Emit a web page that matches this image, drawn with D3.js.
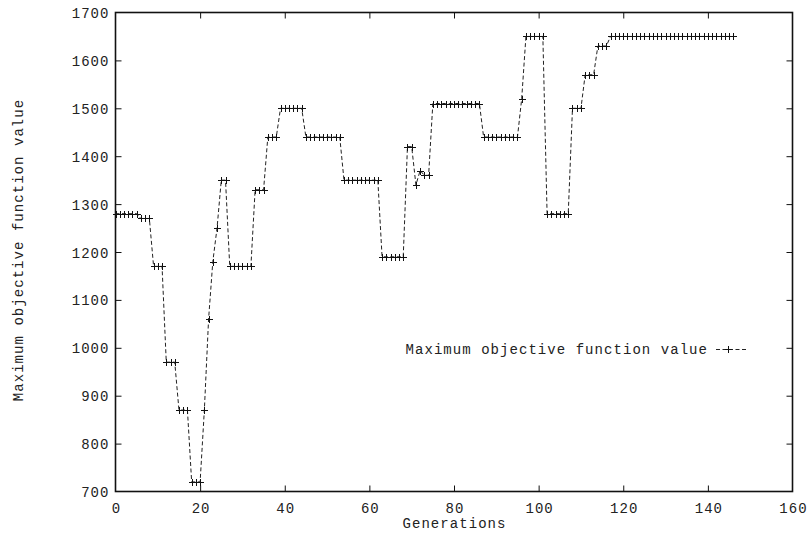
<!DOCTYPE html>
<html>
<head>
<meta charset="utf-8">
<script src="https://cdn.jsdelivr.net/npm/d3@7"></script>
<style>
  html, body { margin: 0; padding: 0; background: #fff; }
  svg { display: block; }
  text { font-family: "Liberation Mono", "Courier New", monospace; font-size: 14px; letter-spacing: 1.05px; fill: #222; }
</style>
</head>
<body>
<svg id="chart" width="808" height="538"></svg>
<script>
// ---- data ----
const seriesName = "Maximum objective function value";
const xTicks = [0, 20, 40, 60, 80, 100, 120, 140, 160];
const yTicks = [700, 800, 900, 1000, 1100, 1200, 1300, 1400, 1500, 1600, 1700];
// value for each generation 0..146
const maxValues = [
  1280, 1280, 1280, 1280, 1280, 1280,
  1270, 1270, 1270,
  1170, 1170, 1170,
  970, 970, 970,
  870, 870, 870,
  720, 720, 720,
  870, 1060, 1180, 1250,
  1350, 1350,
  1170, 1170, 1170, 1170, 1170, 1170,
  1330, 1330, 1330,
  1440, 1440, 1440,
  1500, 1500, 1500, 1500, 1500, 1500,
  1440, 1440, 1440, 1440, 1440, 1440, 1440, 1440, 1440,
  1350, 1350, 1350, 1350, 1350, 1350, 1350, 1350, 1350,
  1190, 1190, 1190, 1190, 1190, 1190,
  1420, 1420,
  1340, 1370,
  1360, 1360,
  1510, 1510, 1510, 1510, 1510, 1510, 1510, 1510, 1510, 1510, 1510, 1510,
  1440, 1440, 1440, 1440, 1440, 1440, 1440, 1440, 1440,
  1520,
  1650, 1650, 1650, 1650, 1650,
  1280, 1280, 1280, 1280, 1280, 1280,
  1500, 1500, 1500,
  1570, 1570, 1570,
  1630, 1630, 1630,
  1650, 1650, 1650, 1650, 1650, 1650, 1650, 1650, 1650, 1650,
  1650, 1650, 1650, 1650, 1650, 1650, 1650, 1650, 1650, 1650,
  1650, 1650, 1650, 1650, 1650, 1650, 1650, 1650, 1650, 1650
];
const data = maxValues.map((v, i) => ({ gen: i, value: v }));

// ---- layout ----
const L = 115.5, R = 792.5, T = 12.5, B = 491.5;
const svg = d3.select("#chart");
const x = d3.scaleLinear().domain([0, 160]).range([L, R]);
const y = d3.scaleLinear().domain([700, 1700]).range([B, T]);
const tickLen = 6;
const fmt = d3.format("d");

// axes with inward ticks (mirrored on top and right)
const gB = svg.append("g").attr("transform", `translate(0,${B})`)
  .call(d3.axisBottom(x).tickValues(xTicks).tickFormat(fmt).tickSizeInner(-tickLen).tickSizeOuter(0).tickPadding(12));
const gT = svg.append("g").attr("transform", `translate(0,${T})`)
  .call(d3.axisTop(x).tickValues(xTicks.slice(1, -1)).tickSizeInner(-tickLen).tickSizeOuter(0).tickFormat(""));
const gL = svg.append("g").attr("transform", `translate(${L},0)`)
  .call(d3.axisLeft(y).tickValues(yTicks).tickFormat(fmt).tickSizeInner(-tickLen).tickSizeOuter(0).tickPadding(6));
const gR = svg.append("g").attr("transform", `translate(${R},0)`)
  .call(d3.axisRight(y).tickValues(yTicks.slice(1, -1)).tickSizeInner(-tickLen).tickSizeOuter(0).tickFormat(""));

[gB, gT, gL, gR].forEach(g => {
  g.select(".domain").remove();
  g.selectAll(".tick line").attr("stroke", "#111").attr("stroke-width", 1);
  g.selectAll("text").attr("font-family", null).attr("font-size", null).attr("fill", "#222");
});
gB.selectAll(".tick").filter(d => d === 0 || d === 160).select("line").remove();
gL.selectAll(".tick").filter(d => d === 700 || d === 1700).select("line").remove();
gL.selectAll("text").attr("dy", "0.36em");
gB.selectAll("text").attr("dy", "0.71em").attr("dx", "0.5px");

// frame
svg.append("rect").attr("x", L).attr("y", T).attr("width", R - L).attr("height", B - T)
  .attr("fill", "none").attr("stroke", "#111").attr("stroke-width", 1.6);

// series line
const line = d3.line().x(d => x(d.gen)).y(d => y(d.value));
svg.append("path").datum(data).attr("d", line)
  .attr("fill", "none").attr("stroke", "#222").attr("stroke-width", 1)
  .attr("stroke-dasharray", "4,2.5");

// points (+)
const cs = 3.5;
const plus = (px, py) => `M${px - cs},${py}H${px + cs}M${px},${py - cs}V${py + cs}`;
svg.append("path")
  .attr("d", data.map(d => plus(Math.round(x(d.gen)) + 0.5, Math.round(y(d.value)) + 0.5)).join(""))
  .attr("stroke", "#111").attr("stroke-width", 1).attr("fill", "none");

// axis titles
svg.append("text").attr("x", (L + R) / 2 + 0.5).attr("y", 528).attr("text-anchor", "middle").text("Generations");
svg.append("text").attr("transform", `translate(23,${(T + B) / 2 - 2}) rotate(-90)`)
  .attr("text-anchor", "middle").text(seriesName);

// legend
const ly = 349.5;
svg.append("text").attr("x", 708).attr("y", ly).attr("dy", "0.33em").attr("text-anchor", "end").text(seriesName);
svg.append("line").attr("x1", 716).attr("x2", 746).attr("y1", ly).attr("y2", ly)
  .attr("stroke", "#222").attr("stroke-width", 1).attr("stroke-dasharray", "4,2.5");
svg.append("path").attr("d", plus(728.5, ly)).attr("stroke", "#111").attr("stroke-width", 1);
</script>
</body>
</html>
